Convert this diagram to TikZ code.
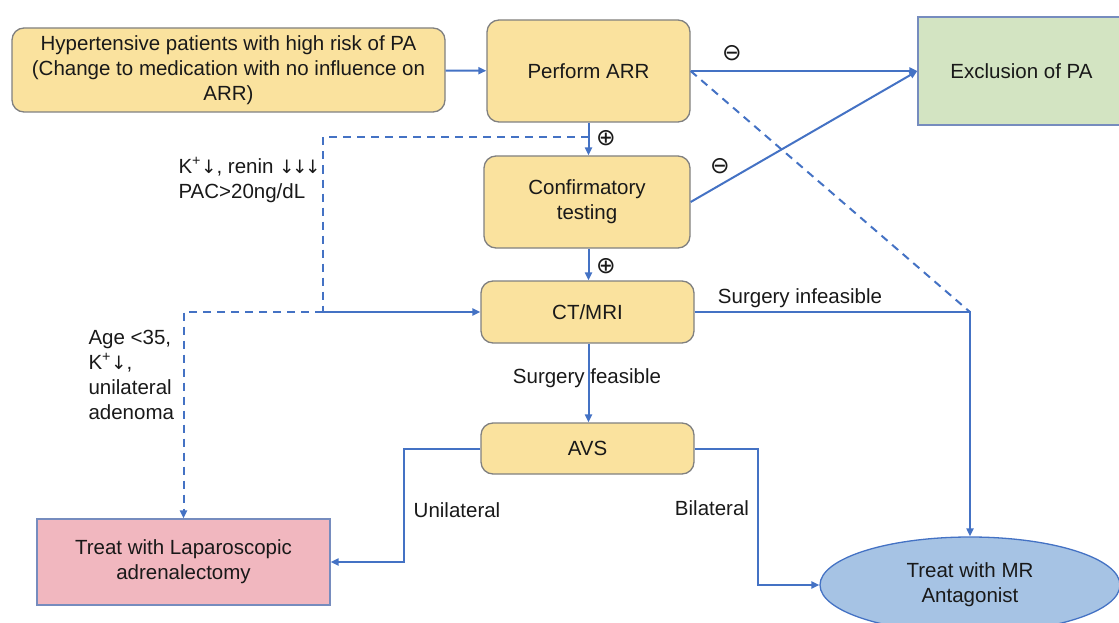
\documentclass[tikz,border=0pt]{standalone}
\usepackage{fontspec}
\setmainfont{Liberation Sans}
\newfontfamily\symfont[Scale=0.9]{DejaVu Sans}
\usetikzlibrary{shapes.geometric,arrows.meta}
\definecolor{boxyellow}{RGB}{250,226,158}
\definecolor{boxgreen}{RGB}{211,228,194}
\definecolor{boxpink}{RGB}{241,183,191}
\definecolor{boxblue}{RGB}{166,195,228}
\definecolor{linkblue}{RGB}{68,114,196}
\definecolor{edgegray}{RGB}{128,128,128}
\definecolor{edgeblue}{RGB}{118,140,190}
\newcommand{\dn}[1]{{\symfont #1}}

\begin{document}
\begin{tikzpicture}[x=1pt,y=-1pt,
  font=\fontsize{20.5}{25}\selectfont, text=black!90,
  stepbox/.style={draw=edgegray, line width=1.3pt, fill=boxyellow, rounded corners=12pt,
    inner sep=0pt, align=center},
  endbox/.style={draw=edgeblue, line width=1.3pt, inner sep=0pt, align=center},
  link/.style={draw=linkblue, line width=2pt, -{Triangle[length=8pt,width=7pt]}},
  dlink/.style={draw=linkblue, line width=2pt, dash pattern=on 8pt off 6pt},
  sign/.style={font=\symfont\fontsize{26}{26}\selectfont}]
  \useasboundingbox (0,0) rectangle (1119,623);

  \node[stepbox, minimum width=433, minimum height=84] (hyp) at (228.5,70)
    {Hypertensive patients with high risk of PA\\(Change to medication with no influence on\\ARR)};
  \node[stepbox, minimum width=203, minimum height=102] (arr) at (588.5,71) {Perform ARR};
  \node[endbox, fill=boxgreen, minimum width=207, minimum height=108] (excl) at (1021.5,71) {Exclusion of PA};
  \node[stepbox, minimum width=206, minimum height=92] (conf) at (587,202) {Confirmatory\\testing};
  \node[stepbox, minimum width=213, minimum height=62] (ct) at (587.5,312) {CT/MRI};
  \node[stepbox, minimum width=213, minimum height=51] (avs) at (587.5,448.5) {AVS};
  \node[endbox, fill=boxpink, minimum width=293, minimum height=86] (lap) at (183.5,562)
    {Treat with Laparoscopic\\adrenalectomy};
  \node[ellipse, draw=linkblue, line width=1.3pt, fill=boxblue, inner sep=0pt, align=center,
    minimum width=300, minimum height=96] (mra) at (970,585) {Treat with MR\\Antagonist};

  \coordinate (kbend) at (323,137);
  \coordinate (infeas) at (mra.north |- ct.east);

  \draw[link] (hyp) -- (arr);
  \draw[link] (arr) -- (excl);
  \draw[link] (arr.south) -- (arr.south |- conf.north);
  \draw[link] (conf.east) -- (excl.west);
  \draw[link] (arr.south |- conf.south) -- (arr.south |- ct.north);
  \draw[dlink] (arr.south |- kbend) -- (kbend) -- (kbend |- ct.west);
  \draw[link] (kbend |- ct.west) -- (ct.west);
  \draw[dlink, -{Triangle[length=8pt,width=7pt]}] (kbend |- ct.west) -- (lap.north |- ct.west) -- (lap.north);
  \draw[dlink] (arr.east) -- (infeas);
  \draw[link] (ct.east) -- (infeas) -- (mra.north);
  \draw[link] (arr.south |- ct.south) -- (arr.south |- avs.north);
  \draw[link] (avs.west) -- ++(-76,0) |- (lap.east);
  \draw[link] (avs.east) -- ++(63,0) |- (mra.west);

  \node[sign] (neg1) at (732,53) {⊖};
  \node[sign] (neg2) at (720,166) {⊖};
  \node[sign] (pos1) at (606,138) {⊕};
  \node[sign] (pos2) at (606,266) {⊕};
  \node[anchor=west, align=left] (klow) at (175,180)
    {K\textsuperscript{+}\dn{↓}, renin \dn{↓\kern-2.5pt↓\kern-2.5pt↓}\\PAC>20ng/dL};
  \node[anchor=west, align=left] (young) at (85,374.5)
    {Age <35,\\K\textsuperscript{+}\dn{↓},\\unilateral\\adenoma};
  \node (infeaslbl) at (800,298) {Surgery infeasible};
  \node (feaslbl) at (587,378) {Surgery feasible};
  \node (unilbl) at (457,510) {Unilateral};
  \node (bilbl) at (712,508) {Bilateral};
\end{tikzpicture}
\end{document}
